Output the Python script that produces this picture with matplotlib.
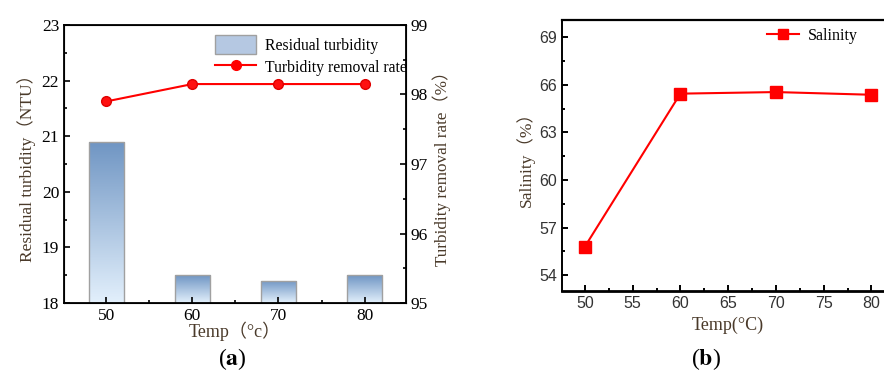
import matplotlib
matplotlib.use("Agg")
import matplotlib.pyplot as plt
import numpy as np
from matplotlib.colors import LinearSegmentedColormap
from matplotlib.patches import Patch
from matplotlib.lines import Line2D

# ------------------------
# DATA
# ------------------------
temps = [50, 60, 70, 80]
residual_turbidity = [20.9, 18.5, 18.4, 18.5]
removal_rate = [97.9, 98.15, 98.15, 98.15]
salinity = [55.8, 65.45, 65.55, 65.38]

plt.rcParams['mathtext.fontset'] = 'stix'
serif = ['Liberation Serif', 'Noto Sans CJK SC']
label_color = '#4a3a2a'

fig = plt.figure(figsize=(8.84, 3.76), dpi=100)

# ------------------------
# PANEL (a)
# ------------------------
ax1 = fig.add_axes([0.0724, 0.194, 0.3868, 0.7396])
bars = ax1.bar(temps, residual_turbidity, width=4.1, bottom=0,
               facecolor='none', edgecolor='#a0a0a0', linewidth=1.0, zorder=2)

# vertical gradient fill, clipped to each bar
grad = LinearSegmentedColormap.from_list('bar', ['#e3f0fc', '#6f95c3'])
g = np.linspace(0, 1, 256).reshape(-1, 1)
for b in bars:
    x0, y0 = b.get_x(), 18
    x1, y1 = x0 + b.get_width(), b.get_height()
    im = ax1.imshow(g, cmap=grad, origin='lower', aspect='auto',
                    extent=[x0, x1, y0, y1], zorder=1)
    im.set_clip_path(b)
ax1.set_xlim(45.1, 84.8)
ax1.set_ylim(18, 23)

ax1.set_xticks([50, 60, 70, 80])
ax1.set_xticks([55, 65, 75], minor=True)
ax1.set_yticks(range(18, 24))
ax1.set_yticks(np.arange(18.5, 23, 1), minor=True)
ax1.tick_params(which='both', direction='in', width=1.2, labelsize=12.5)
ax1.tick_params(which='major', length=4)
ax1.tick_params(which='minor', length=2.5)
ax1.tick_params(axis='y', right=False)
for lab in ax1.get_xticklabels() + ax1.get_yticklabels():
    lab.set_fontfamily(serif)
for s in ax1.spines.values():
    s.set_linewidth(1.3)
ax1.set_ylabel('Residual turbidity（NTU）', fontsize=12.5, family=serif,
               color=label_color, labelpad=4)
ax1.set_xlabel('Temp（°c）', fontsize=13, family=serif,
               color=label_color, labelpad=-2)

ax2 = ax1.twinx()
ax2.plot(temps, removal_rate, color='#ff0000', lw=1.5, marker='o',
         markersize=7, markerfacecolor='#ff1010', markeredgecolor='#e00000')
ax2.set_ylim(95, 99)
ax2.set_yticks(range(95, 100))
ax2.set_yticks(np.arange(95.5, 99, 0.5), minor=True)
ax2.tick_params(which='both', direction='in', width=1.2, labelsize=12.5)
ax2.tick_params(which='major', length=4)
ax2.tick_params(which='minor', length=2.5)
for lab in ax2.get_yticklabels():
    lab.set_fontfamily(serif)
ax2.set_ylabel('Turbidity removal rate（%）', fontsize=12.3, family=serif,
               color=label_color, labelpad=3)

handles = [Patch(facecolor='#b5c8e2', edgecolor='#a0a0a0'),
           Line2D([], [], color='#ff0000', lw=1.5, marker='o', markersize=7)]
ax2.legend(handles, ['Residual turbidity', 'Turbidity removal rate'],
           loc='upper right', bbox_to_anchor=(1.045, 1.015), frameon=False,
           prop={'family': serif, 'size': 11.3}, handlelength=2.6,
           handleheight=1.5, labelspacing=0.2, handletextpad=0.6)

fig.text(0.263, 0.045, r'($\mathbf{a}$)', ha='center', va='center',
         fontsize=17, family=serif)

# ------------------------
# PANEL (b)
# ------------------------
ax3 = fig.add_axes([0.6357, 0.226, 0.376, 0.721])
ax3.plot(temps, salinity, color='#ff0000', lw=1.5, marker='s',
         markersize=8, label='Salinity')
ax3.set_xlim(47.6, 82.4)
ax3.set_ylim(53, 70.1)
ax3.set_xticks(range(50, 81, 5))
ax3.set_xticks(np.arange(52.5, 80, 5), minor=True)
ax3.set_yticks(range(54, 70, 3))
ax3.set_yticks(np.arange(55.5, 70, 3), minor=True)
ax3.tick_params(which='both', direction='in', width=1.4, labelsize=11.5)
ax3.tick_params(which='major', length=4)
ax3.tick_params(which='minor', length=2.5)
for lab in ax3.get_xticklabels() + ax3.get_yticklabels():
    lab.set_fontfamily('Liberation Sans')
    lab.set_color('#333333')
ax3.spines['left'].set_linewidth(1.4)
ax3.spines['bottom'].set_linewidth(2)
ax3.spines['top'].set_linewidth(1.6)
ax3.set_ylabel('Salinity（%）', fontsize=12.5, family=serif,
               color=label_color, labelpad=3)
ax3.set_xlabel('Temp(°C)', fontsize=13, family=serif,
               color=label_color, labelpad=4)
ax3.legend(loc='upper left', bbox_to_anchor=(0.575, 1.025), frameon=False,
           prop={'family': serif, 'size': 11.5}, handlelength=2.0,
           handletextpad=0.5, markerscale=0.85)

fig.text(0.799, 0.045, r'($\mathbf{b}$)', ha='center', va='center',
         fontsize=17, family=serif)

plt.savefig('out.png', dpi=100)
